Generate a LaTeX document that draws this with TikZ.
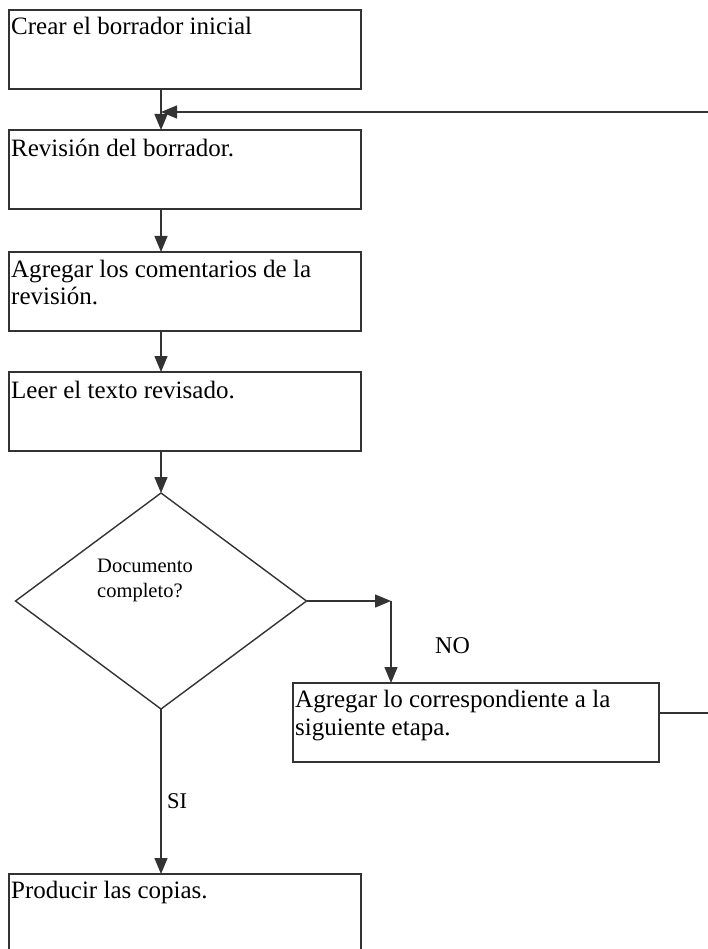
\documentclass[tikz,border=0pt]{standalone}
\usepackage{fontspec}
\setmainfont{Liberation Serif}
\usetikzlibrary{arrows.meta,shapes.geometric}
\begin{document}
\begin{tikzpicture}[x=1pt,y=-1pt,
  line/.style={draw=black!80, line width=1.4pt},
  arr/.style={line, -{Triangle[length=16pt,width=13pt]}},
  box/.style={line, rectangle, inner sep=0pt, outer sep=0pt, anchor=north west,
              minimum width=352pt, minimum height=79pt},
  decision/.style={line, diamond, inner sep=0pt, outer sep=0pt,
              minimum width=291pt, minimum height=216pt},
  label/.style={font=\fontsize{25}{28}\selectfont, anchor=base west, inner sep=0pt},
  qlabel/.style={font=\fontsize{20.5}{25}\selectfont, anchor=base west, inner sep=0pt}]
\clip (0,0) rectangle (708,949);

% flow boxes
\node[box] (b1) at (9,10) {};
\node[box] (b2) at (9,130) {};
\node[box] (b3) at (9,252) {};
\node[box] (b4) at (9,372) {};
\node[decision] (d) at (161,601) {};
\node[box, minimum width=366pt] (b5) at (293,683) {};
\node[box, minimum height=100pt] (b6) at (9,874) {};

% box texts
\node[label] (t1) at (11,35) {Crear el borrador inicial};
\node[label] (t2) at (11,157) {Revisión del borrador.};
\node[label] (t3a) at (11,277) {Agregar los comentarios de la};
\node[label] (t3b) at (11,305) {revisión.};
\node[label] (t4) at (11,398) {Leer el texto revisado.};
\node[qlabel] (tda) at (97,572) {Documento};
\node[qlabel] (tdb) at (97,597) {completo?};
\node[label] (t5a) at (295,707) {Agregar lo correspondiente a la};
\node[label] (t5b) at (295,735) {siguiente etapa.};
\node[label] (t6) at (11,898) {Producir las copias.};

% branch labels
\node[label, font=\fontsize{24}{28}\selectfont] (no) at (435,653) {NO};
\node[label, font=\fontsize{22.5}{26}\selectfont] (si) at (167,808) {SI};

% helper points
\coordinate (spine) at (161,0);
\coordinate (fb) at (708,112);
\coordinate (turn) at (391,601);
\coordinate (out5) at (708,713);

% main sequence
\draw[arr] (b1.south -| spine) -- (b2.north -| spine);
\draw[arr] (b2.south -| spine) -- (b3.north -| spine);
\draw[arr] (b3.south -| spine) -- (b4.north -| spine);
\draw[arr] (b4.south -| spine) -- (d.north);
\draw[arr] (d.south) -- (b6.north -| spine);

% NO branch and loop back
\draw[arr] (d.east) -- (turn);
\draw[arr] (turn) -- (b5.north -| turn);
\draw[line] (out5 -| b5.east) -- (out5);
\draw[arr] (fb) -- (fb -| spine);
\end{tikzpicture}
\end{document}
